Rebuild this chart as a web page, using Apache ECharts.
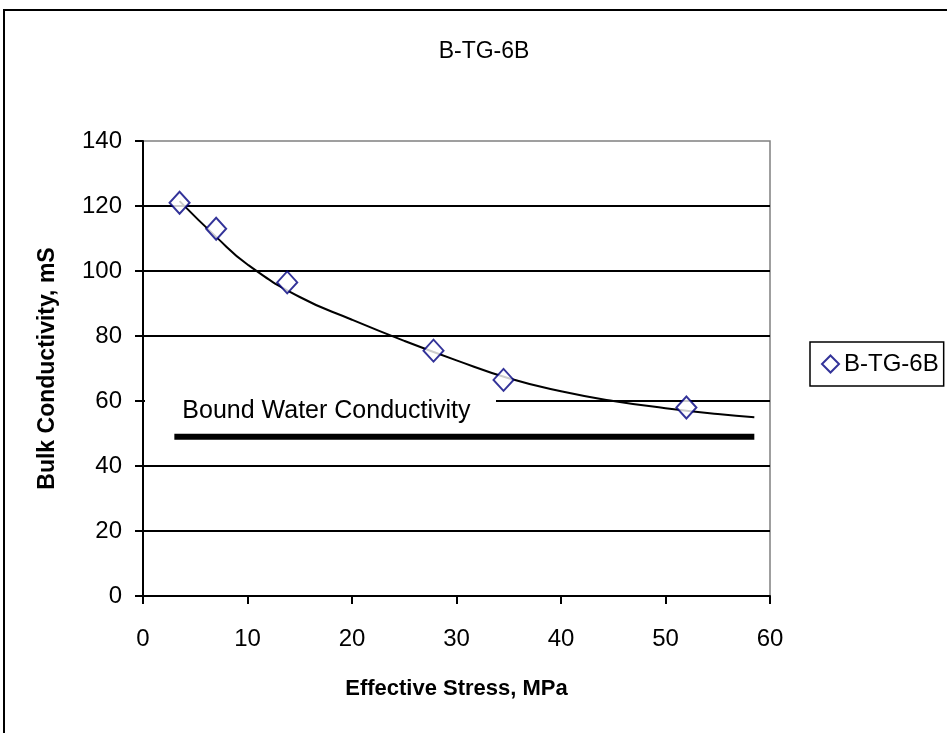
<!DOCTYPE html>
<html><head><meta charset="utf-8">
<script src="https://cdn.jsdelivr.net/npm/echarts@6/dist/echarts.min.js"></script>
<style>html,body{margin:0;padding:0;background:#fff}#c{width:947px;height:733px}</style>
</head><body><div id="c"></div>
<script>
const titleText = 'B-TG-6B';
const seriesName = 'B-TG-6B';
const stress = [3.5, 7, 13.8, 27.8, 34.5, 52];
const conductivity = [121, 113, 96.5, 75.5, 66.5, 58];
const trendX = [3.5, 7, 10, 15, 20, 25, 30, 35, 40, 45, 50, 55, 58.5];
const trendY = [121.5, 110.5, 102, 92, 85, 78.5, 72.5, 67, 63, 60, 57.8, 56, 55];
const boundX = [3, 58.5];
const boundY = [49, 49];
const boundLabel = 'Bound Water Conductivity';
const xTicks = [0, 10, 20, 30, 40, 50, 60];
const yTicks = [0, 20, 40, 60, 80, 100, 120, 140];

const font = 'Liberation Sans, Arial, sans-serif';
const chart = echarts.init(document.getElementById('c'), null, {renderer: 'canvas'});
const option = {
  animation: false,
  backgroundColor: '#fff',
  title: {text: titleText, left: 479, textAlign: 'center', top: 35,
    textStyle: {fontFamily: font, fontSize: 23, fontWeight: 'normal', color: '#000'}},
  grid: {left: 143, right: 177, top: 141, bottom: 137, show: true, borderColor: '#808080', borderWidth: 1.5, backgroundColor: 'transparent'},
  legend: {
    left: 810, top: 342, padding: [10, 5, 10, 11],
    borderColor: '#000', borderWidth: 1.5, backgroundColor: '#fff',
    itemWidth: 17, itemHeight: 17, itemGap: 4,
    textStyle: {fontFamily: font, fontSize: 24, color: '#000'},
    data: [{name: seriesName, icon: 'diamond', itemStyle: {color: '#fff', borderColor: '#000080', borderWidth: 2}}]
  },
  xAxis: {
    type: 'value', min: xTicks[0], max: xTicks[xTicks.length-1], interval: 10,
    name: 'Effective Stress, MPa', nameLocation: 'middle', nameGap: 82,
    nameTextStyle: {fontFamily: font, fontSize: 22, fontWeight: 'bold', color: '#000'},
    axisLine: {lineStyle: {color: '#000', width: 2}},
    axisTick: {show: true, length: 8, lineStyle: {color: '#000', width: 2}},
    axisLabel: {fontFamily: font, fontSize: 24, color: '#000', margin: 31},
    splitLine: {show: false}
  },
  yAxis: {
    type: 'value', min: yTicks[0], max: yTicks[yTicks.length-1], interval: 20,
    name: 'Bulk Conductivity, mS', nameLocation: 'middle', nameGap: 84, nameRotate: 90,
    nameTextStyle: {fontFamily: font, fontSize: 23, fontWeight: 'bold', color: '#000'},
    axisLine: {show: true, lineStyle: {color: '#000', width: 2}},
    axisTick: {show: true, length: 8, lineStyle: {color: '#000', width: 2}},
    axisLabel: {fontFamily: font, fontSize: 24, color: '#000', margin: 21},
    splitLine: {show: true, showMinLine: false, showMaxLine: false, lineStyle: {color: '#000', width: 2}}
  },
  series: [
    {name: 'bound', type: 'line', data: boundX.map((x, i) => [x, boundY[i]]),
     symbol: 'none', lineStyle: {color: '#000', width: 6}, z: 2, silent: true},
    {name: 'trend', type: 'line', data: trendX.map((x, i) => [x, trendY[i]]),
     smooth: true, symbol: 'none', lineStyle: {color: '#000', width: 2}, z: 3, silent: true},
    {name: seriesName, type: 'scatter', data: stress.map((x, i) => [x, conductivity[i]]),
     symbol: 'diamond', symbolSize: [20, 22],
     itemStyle: {color: '#fff', borderColor: '#000080', borderWidth: 2}, z: 5}
  ]
};
chart.setOption(option);
const p0 = chart.convertToPixel({gridIndex: 0}, [0, 60]);
const p1 = chart.convertToPixel({gridIndex: 0}, [boundX[0], boundY[0]]);
chart.setOption({
  graphic: [
    {type: 'rect', shape: {x: p0[0] + 2, y: p0[1] - 4, width: 351, height: 8}, style: {fill: '#fff'}, z: 10},
    {type: 'text', x: p1[0] + 8, y: p1[1] - 26, z: 11,
     style: {text: boundLabel, fontFamily: font, fontSize: 25, fill: '#000', verticalAlign: 'middle'}},
    {type: 'rect', shape: {x: 4, y: 10, width: 950, height: 740}, style: {fill: 'none', stroke: '#000', lineWidth: 2}, z: 0, silent: true}
  ]
});
</script></body></html>
